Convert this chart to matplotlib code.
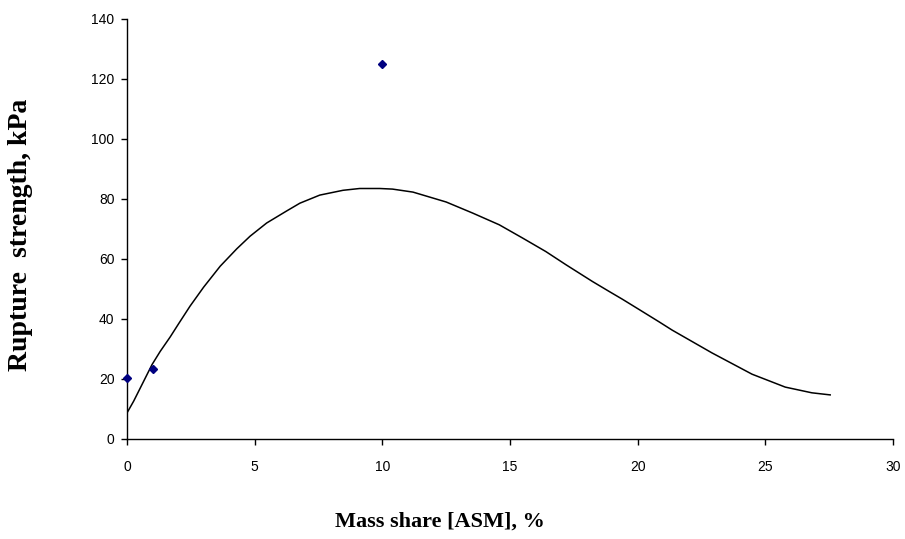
import matplotlib
matplotlib.use("Agg")
import matplotlib.pyplot as plt

# measured points
mass_share = [0, 1, 10]
strength = [20.3, 23.3, 125]

# trend curve
curve_x = [0.0, 0.26, 0.52, 0.98, 1.30, 1.69, 2.02, 2.47, 3.0, 3.65, 4.30, 4.82,
           5.47, 6.25, 6.77, 7.55, 8.46, 9.11, 9.9, 10.4, 11.2, 12.5, 13.54, 14.58,
           15.49, 16.4, 17.19, 18.23, 18.88, 19.4, 20.05, 20.83, 21.35, 22.91,
           24.48, 25.78, 26.82, 27.54]
curve_y = [8.7, 12.6, 17.0, 24.8, 29.2, 34.0, 38.4, 44.3, 50.6, 57.6, 63.4, 67.6,
           72.0, 76.0, 78.6, 81.3, 82.9, 83.5, 83.5, 83.3, 82.3, 79.0, 75.3, 71.4,
           67.0, 62.5, 58.1, 52.5, 49.2, 46.6, 43.2, 39.1, 36.3, 28.7,
           21.6, 17.3, 15.4, 14.7]

xticks = [0, 5, 10, 15, 20, 25, 30]
yticks = [0, 20, 40, 60, 80, 100, 120, 140]

fig = plt.figure(figsize=(9.05, 5.39), dpi=100)
ax = fig.add_axes([127 / 905, 1 - 439 / 539, 766 / 905, 420 / 539])

ax.plot(curve_x, curve_y, color='black', lw=1.1)
ax.plot(mass_share, strength, linestyle='none', marker='D', markersize=4.5,
        color='#000080', clip_on=False, zorder=3)

ax.set_xlim(0, 30)
ax.set_ylim(0, 140)
ax.set_xticks(xticks)
ax.set_yticks(yticks)
for s in ['top', 'right']:
    ax.spines[s].set_visible(False)
for s in ['left', 'bottom']:
    ax.spines[s].set_linewidth(1.0)
    ax.spines[s].set_color('black')

ax.tick_params(axis='x', direction='out', length=4, width=1.0, pad=11)
ax.tick_params(axis='y', direction='out', length=4, width=1.0, pad=5)
for lab in ax.get_xticklabels() + ax.get_yticklabels():
    lab.set_fontfamily('Liberation Sans')
    lab.set_fontsize(10)

fig.text(440 / 905, 1 - 522 / 539, 'Mass share [ASM], %', ha='center', va='center',
         fontfamily='Liberation Serif', fontweight='bold', fontsize=16)
fig.text(21 / 905, 1 - 235 / 539, 'Rupture  strength, kPa', ha='center', va='center',
         rotation=90, fontfamily='Liberation Serif', fontweight='bold', fontsize=20)

fig.savefig('out.png', dpi=100)
